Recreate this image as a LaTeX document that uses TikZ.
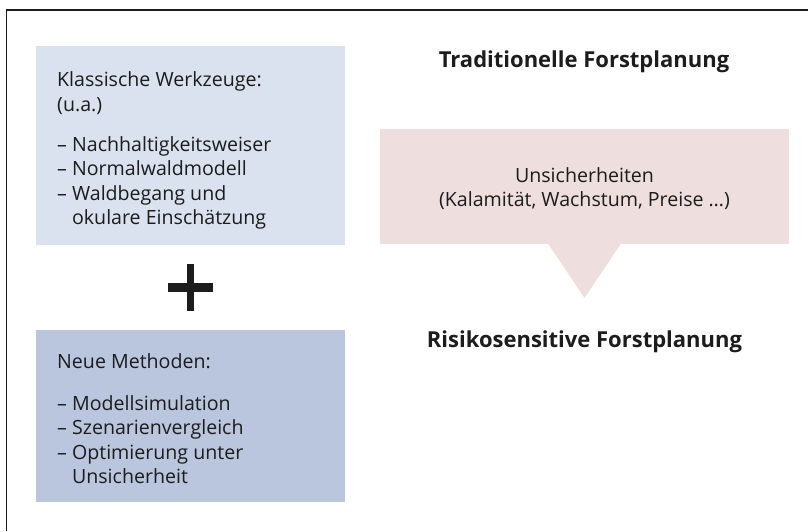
\documentclass[tikz,border=0pt]{standalone}
\usepackage{fontspec}
\setmainfont{Open Sans}
\usetikzlibrary{calc}
\definecolor{boxa}{HTML}{DAE2EF}
\definecolor{boxb}{HTML}{B9C6DE}
\definecolor{pinkbox}{HTML}{EFDEDE}
\definecolor{ink}{HTML}{1C1C1C}
\tikzset{
  panel/.style={draw=none, inner sep=0pt, outer sep=0pt, anchor=north west},
  body/.style={inner sep=0pt, anchor=north west, align=left, text=ink,
    font=\fontsize{19.6}{24.5}\selectfont},
  heading/.style={inner sep=0pt, anchor=base, text=ink,
    font=\fontsize{22}{28}\selectfont\bfseries},
}
\begin{document}
\begin{tikzpicture}[x=1pt,y=1pt]
\useasboundingbox (0,0) rectangle (808,-531);
% frame (top and left edges only)
\coordinate (fbl) at (6.5,-531);
\coordinate (ftl) at (6.5,-10);
\coordinate (ftr) at (808,-10);
\draw[line width=1.3pt, ink] (fbl) -- (ftl) -- (ftr);
% left panels
\node[panel, fill=boxa, minimum width=309pt, minimum height=199pt] (klass) at (36,-46) {};
\node[panel, fill=boxb, minimum width=309pt, minimum height=172pt] (neu) at (36,-330) {};
\node[body] (klasst) at ($(klass.north west)+(21,-25.5)$)
  {Klassische Werkzeuge:\\(u.a.)\\[15.5pt]
   – Nachhaltigkeitsweiser\\– Normalwaldmodell\\– Waldbegang und\\\hphantom{– }okulare Einschätzung};
\node[body] (neut) at ($(neu.north west)+(21,-23.5)$)
  {Neue Methoden:\\[17pt]
   – Modellsimulation\\– Szenarienvergleich\\– Optimierung unter\\\hphantom{– }Unsicherheit};
% plus sign
\coordinate (plus) at (190.5,-287.5);
\fill[ink] ($(plus)+(-22.5,-4.5)$) rectangle ($(plus)+(22.5,4.5)$);
\fill[ink] ($(plus)+(-3.5,-23.5)$) rectangle ($(plus)+(3.5,23.5)$);
% headings
\node[heading] (trad) at (584,-67) {Traditionelle Forstplanung};
\node[heading] (risk) at (584.5,-347) {Risikosensitive Forstplanung};
% uncertainty callout
\node[panel, fill=pinkbox, minimum width=409pt, minimum height=115pt] (unsich) at (380,-129) {};
\fill[pinkbox] ($(unsich.south)+(-36.5,0.5)$) -- ($(unsich.south)+(36.5,0.5)$) -- ($(unsich.south)+(0,-54)$) -- cycle;
\node[inner sep=0pt, align=center, text=ink, anchor=center,
  font=\fontsize{19.6}{24.5}\selectfont] (unsicht) at ($(unsich.center)+(0,-2)$)
  {Unsicherheiten\\(Kalamität, Wachstum, Preise …)};
\end{tikzpicture}
\end{document}
